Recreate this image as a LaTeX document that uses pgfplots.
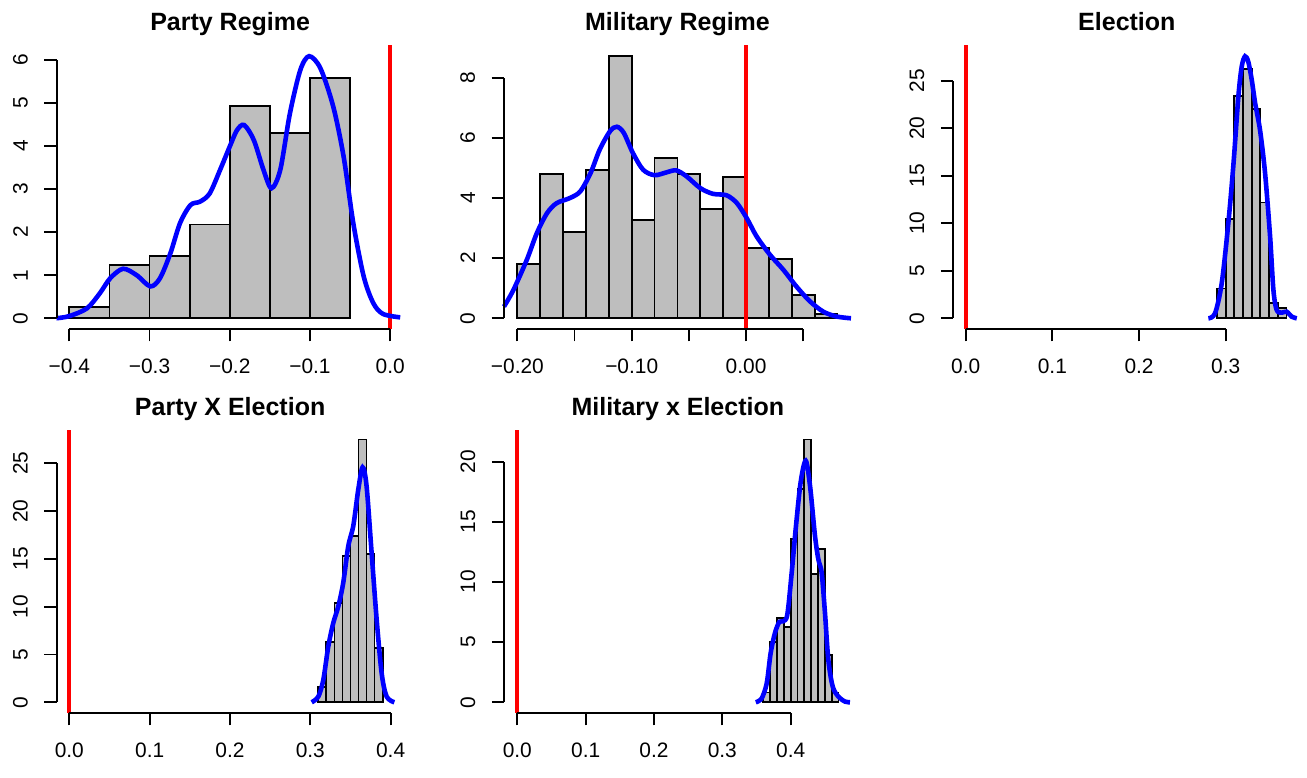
\documentclass[border=0pt]{standalone}
\usepackage{fontspec}
\setmainfont{Liberation Sans}
\usepackage{pgfplots}
\pgfplotsset{compat=1.18}
\definecolor{rgray}{RGB}{190,190,190}
\pgfplotsset{
  rpanel/.style={
    scale only axis, width=173.5pt, height=142pt, anchor=south west,
    axis lines*=left, axis line style={draw=none},
    tick align=outside, major tick length=6.25pt,
    tick style={black, line width=0.9pt},
    clip=false,
    font=\fontsize{10.45}{12.5}\selectfont,
    xticklabel style={anchor=north, inner sep=0pt},
    yticklabel style={rotate=90, anchor=south, inner sep=0pt},
    xticklabel shift=8.5pt, yticklabel shift=8pt,
    every axis title shift=0pt,
    title style={at={(0.5,1)}, anchor=base, yshift=7pt, inner sep=0pt,
                 font=\bfseries\fontsize{12.5}{15}\selectfont},
  },
  hist/.style={ybar interval, fill=rgray, draw=black, line width=0.9pt},
  dens/.style={blue, line width=2.3pt, smooth, no markers},
  zero/.style={red, line width=2pt, no markers},
  rax/.style={black, line width=0.9pt, no markers},
}
\begin{document}
\begin{tikzpicture}
\path[use as bounding box] (0,0) rectangle (653.5pt,388.5pt);

% Party Regime
\begin{axis}[rpanel, at={(28.33pt,224pt)},
  xmin=-0.4158, xmax=0.0168, ymin=-0.25, ymax=6.35,
  xtick={-0.4,-0.3,-0.2,-0.1,0}, xticklabels={−0.4,−0.3,−0.2,−0.1,0.0},
  ytick={0,1,2,3,4,5,6}, yticklabels={0,1,2,3,4,5,6},
  title={Party Regime}]
\addplot[hist] coordinates {(-0.40,0.27) (-0.35,1.24) (-0.30,1.45) (-0.25,2.18) (-0.20,4.93) (-0.15,4.30) (-0.10,5.59) (-0.05,5.59)};
\addplot[zero] coordinates {(0,-0.25) (0,6.35)};
\addplot[dens] coordinates {(-0.416,0.0) (-0.40,0.05) (-0.378,0.23) (-0.362,0.58) (-0.349,0.93) (-0.333,1.15) (-0.316,1.0) (-0.299,0.74) (-0.287,0.93) (-0.274,1.51) (-0.262,2.21) (-0.249,2.63) (-0.237,2.71) (-0.225,2.90) (-0.212,3.45) (-0.200,3.99) (-0.191,4.37) (-0.182,4.49) (-0.170,4.14) (-0.158,3.45) (-0.148,3.02) (-0.137,3.45) (-0.125,4.76) (-0.112,5.77) (-0.101,6.09) (-0.087,5.81) (-0.071,4.92) (-0.058,3.75) (-0.046,2.21) (-0.033,0.97) (-0.021,0.35) (-0.009,0.10) (0.0125,0.02)};
\addplot[rax] coordinates {(-0.4,-0.25) (0,-0.25)};
\addplot[rax] coordinates {(-0.4158,0) (-0.4158,6)};
\end{axis}

% Military Regime
\begin{axis}[rpanel, at={(252pt,224pt)},
  xmin=-0.2117, xmax=0.0918, ymin=-0.356, ymax=9.09,
  xtick={-0.2,-0.15,-0.1,-0.05,0,0.05}, xticklabels={−0.20,,−0.10,,0.00,},
  ytick={0,2,4,6,8}, yticklabels={0,2,4,6,8},
  title={Military Regime}]
\addplot[hist] coordinates {(-0.20,1.81) (-0.18,4.81) (-0.16,2.87) (-0.14,4.94) (-0.12,8.72) (-0.10,3.26) (-0.08,5.34) (-0.06,4.81) (-0.04,3.64) (-0.02,4.70) (0.00,2.34) (0.02,1.96) (0.04,0.78) (0.06,0.13) (0.08,0.13)};
\addplot[zero] coordinates {(0,-0.356) (0,9.09)};
\addplot[dens] coordinates {(-0.2117,0.39) (-0.2035,0.94) (-0.1918,1.94) (-0.183,2.83) (-0.174,3.5) (-0.1656,3.83) (-0.154,4.0) (-0.145,4.22) (-0.136,4.83) (-0.128,5.61) (-0.119,6.22) (-0.113,6.37) (-0.107,6.17) (-0.099,5.5) (-0.090,4.94) (-0.080,4.76) (-0.069,4.86) (-0.061,4.92) (-0.052,4.72) (-0.040,4.33) (-0.029,4.14) (-0.017,4.09) (-0.008,3.83) (0.0006,3.33) (0.0093,2.72) (0.021,2.11) (0.0327,1.61) (0.044,1.06) (0.056,0.56) (0.0676,0.22) (0.079,0.06) (0.0918,0.0)};
\addplot[rax] coordinates {(-0.2,-0.356) (0.05,-0.356)};
\addplot[rax] coordinates {(-0.2117,0) (-0.2117,8)};
\end{axis}

% Election
\begin{axis}[rpanel, at={(476.67pt,224pt)},
  xmin=-0.01423, xmax=0.3861, ymin=-1.12, ymax=28.75,
  xtick={0,0.1,0.2,0.3}, xticklabels={0.0,0.1,0.2,0.3},
  ytick={0,5,10,15,20,25}, yticklabels={0,5,10,15,20,25},
  title={Election}]
\addplot[hist] coordinates {(0.29,3.13) (0.30,10.43) (0.31,23.35) (0.32,26.23) (0.33,22.05) (0.34,12.18) (0.35,1.58) (0.36,1.05) (0.37,1.05)};
\addplot[zero] coordinates {(0,-1.12) (0,28.75)};
\addplot[dens] coordinates {(0.28,0) (0.2877,0.53) (0.2954,3.69) (0.303,10.0) (0.309,16.3) (0.3146,23.35) (0.3185,26.5) (0.3223,27.56) (0.326,27.0) (0.330,25.1) (0.334,22.6) (0.3396,19.8) (0.3454,15.27) (0.3512,8.6) (0.355,3.0) (0.3588,0.88) (0.3646,0.6) (0.3704,0.7) (0.376,0.18) (0.382,0)};
\addplot[rax] coordinates {(0,-1.12) (0.3,-1.12)};
\addplot[rax] coordinates {(-0.01423,0) (-0.01423,25)};
\end{axis}

% Party X Election
\begin{axis}[rpanel, at={(28.33pt,32.1pt)}, height=141.6pt,
  xmin=-0.01577, xmax=0.4162, ymin=-1.1, ymax=28.52,
  xtick={0,0.1,0.2,0.3,0.4}, xticklabels={0.0,0.1,0.2,0.3,0.4},
  ytick={0,5,10,15,20,25}, yticklabels={0,5,10,15,20,25},
  title={Party X Election}]
\addplot[hist] coordinates {(0.31,1.58) (0.32,6.27) (0.33,10.4) (0.34,15.3) (0.35,17.4) (0.36,27.49) (0.37,15.55) (0.38,5.67) (0.39,5.67)};
\addplot[zero] coordinates {(0,-1.1) (0,28.52)};
\addplot[dens] coordinates {(0.3017,0) (0.31,0.6) (0.3162,2.35) (0.3224,5.85) (0.3286,8.3) (0.3349,10.05) (0.341,12.5) (0.3473,16.35) (0.3535,18.45) (0.3598,22.3) (0.3651,24.58) (0.370,22.65) (0.3763,15.65) (0.3826,8.65) (0.3888,3.05) (0.395,0.6) (0.4046,0)};
\addplot[rax] coordinates {(0,-1.1) (0.4,-1.1)};
\addplot[rax] coordinates {(-0.01577,0) (-0.01577,25)};
\end{axis}

% Military x Election
\begin{axis}[rpanel, at={(252.17pt,32.1pt)}, height=141.6pt,
  xmin=-0.01902, xmax=0.4888, ymin=-0.874, ymax=22.66,
  xtick={0,0.1,0.2,0.3,0.4}, xticklabels={0.0,0.1,0.2,0.3,0.4},
  ytick={0,5,10,15,20}, yticklabels={0,5,10,15,20},
  title={Military x Election}]
\addplot[hist] coordinates {(0.36,0.81) (0.37,4.98) (0.38,7.01) (0.39,6.26) (0.40,13.55) (0.41,17.72) (0.42,21.84) (0.43,10.68) (0.44,12.71) (0.45,3.92) (0.46,0.81) (0.47,0.81)};
\addplot[zero] coordinates {(0,-0.874) (0,22.66)};
\addplot[dens] coordinates {(0.349,0) (0.3576,0.33) (0.365,1.59) (0.3707,4.09) (0.377,5.76) (0.3834,6.68) (0.389,6.73) (0.3951,7.29) (0.4015,10.76) (0.4078,14.66) (0.4146,18.28) (0.422,20.08) (0.4283,18.0) (0.4356,13.82) (0.4405,11.88) (0.4454,10.76) (0.4502,7.43) (0.4551,3.53) (0.4615,1.31) (0.4698,0.47) (0.4795,0.06) (0.4868,0)};
\addplot[rax] coordinates {(0,-0.874) (0.4,-0.874)};
\addplot[rax] coordinates {(-0.01902,0) (-0.01902,20)};
\end{axis}
\end{tikzpicture}
\end{document}
